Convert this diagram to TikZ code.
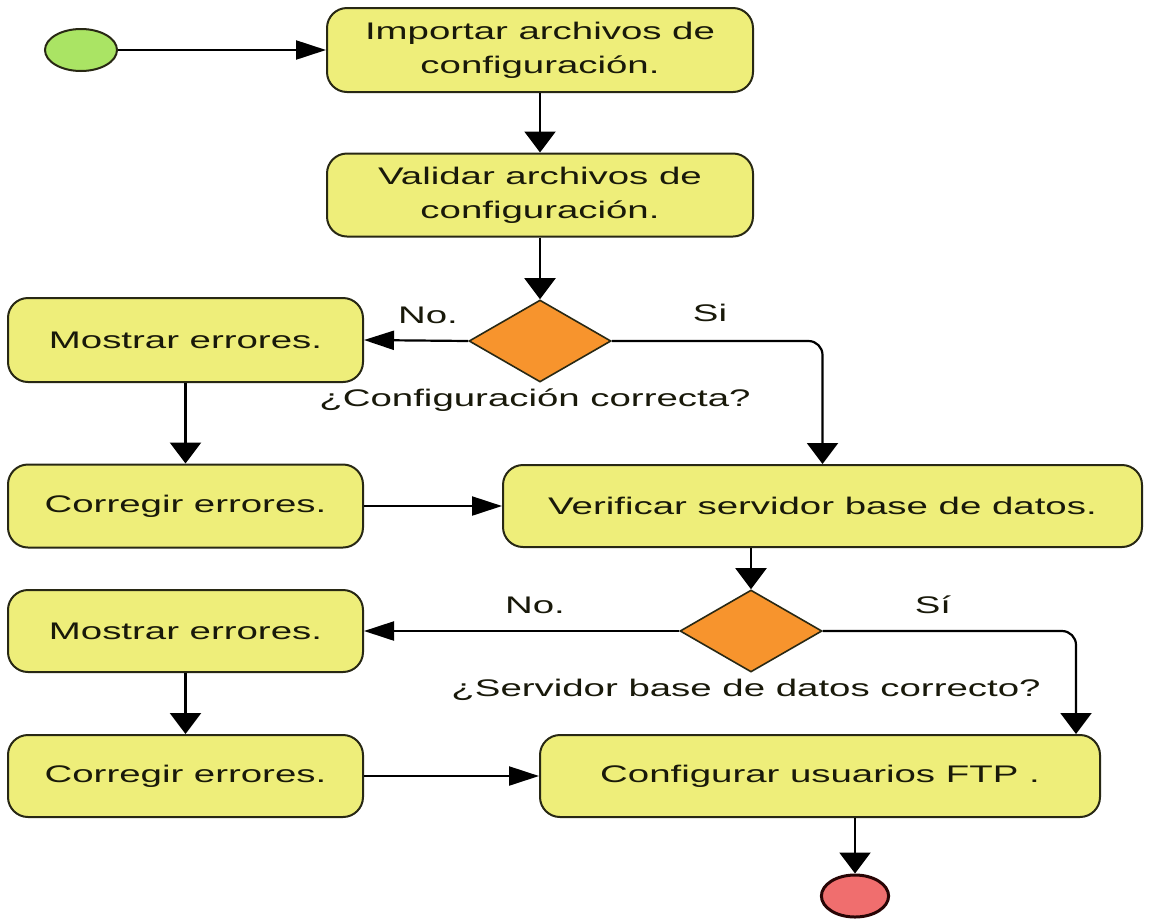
\documentclass[tikz,border=0pt]{standalone}
\usepackage{fontspec}
\setmainfont{Liberation Sans}[FakeStretch=1.6]
\usetikzlibrary{shapes.geometric,arrows.meta}
\definecolor{boxfill}{RGB}{238,238,122}
\definecolor{boxline}{RGB}{40,40,20}
\definecolor{decfill}{RGB}{247,148,45}
\definecolor{startfill}{RGB}{170,228,100}
\definecolor{endfill}{RGB}{240,110,110}
\definecolor{endline}{RGB}{40,5,5}
\definecolor{txt}{RGB}{25,25,10}
\begin{document}
\begin{tikzpicture}[x=1pt,y=-1pt,
  font=\fontsize{24}{34}\selectfont,
  act/.style={draw=boxline,line width=2pt,fill=boxfill,rounded corners=20pt,
    minimum height=83pt,align=center,text=txt,inner sep=0pt},
  dec/.style={diamond,draw=boxline,line width=1.6pt,fill=decfill,
    minimum width=142pt,minimum height=82pt,inner sep=0pt},
  lbl/.style={text=txt,inner sep=0pt},
  conn/.style={line width=2.2pt,draw=black},
  harr/.style={conn,-{Triangle[length=30pt,width=19pt]}},
  varr/.style={conn,-{Triangle[length=21pt,width=31pt]}},
]
\useasboundingbox[fill=white] (0,0) rectangle (1172,922);

\node[ellipse,draw=boxline,line width=2pt,fill=startfill,minimum width=72pt,
  minimum height=42pt,inner sep=0pt] (start) at (81,50) {};
\node[act,minimum width=426pt,minimum height=84pt] (b1) at (540,50)
  {Importar archivos de\\configuración.};
\node[act,minimum width=426pt] (b2) at (540,195)
  {Validar archivos de\\configuración.};
\node[dec] (d1) at (540,341) {};
\node[act,minimum width=355pt,minimum height=84pt] (m1) at (185.5,340) {Mostrar errores.};
\node[act,minimum width=355pt] (c1) at (185.5,506) {Corregir errores.};
\node[act,minimum width=639pt,minimum height=82pt] (v) at (822.5,506)
  {Verificar servidor base de datos.};
\node[dec] (d2) at (751,631) {};
\node[act,minimum width=355pt,minimum height=82pt] (m2) at (185.5,631) {Mostrar errores.};
\node[act,minimum width=355pt,minimum height=82pt] (c2) at (185.5,776) {Corregir errores.};
\node[act,minimum width=560pt,minimum height=82pt] (conf) at (820,776)
  {Configurar usuarios FTP .};
\node[circle,draw=endline,line width=3pt,fill=endfill,minimum size=42pt,
  inner sep=0pt,xscale=1.6] (end) at (855,896) {};

\node[lbl] (no1) at (428,315) {No.};
\node[lbl] (si1) at (710,313) {Si};
\node[lbl] (q1) at (535,400) {¿Configuración correcta?};
\node[lbl] (no2) at (535,605) {No.};
\node[lbl] (si2) at (933,605) {Sí};
\node[lbl] (q2) at (746,690) {¿Servidor base de datos correcto?};

\draw[harr] (start) -- (b1.west);
\draw[varr] (b1) -- (b2);
\draw[varr] (b2) -- (d1.north);
\draw[harr] (d1.west) -- (m1.east);
\draw[varr,rounded corners=14pt] (d1.east) -| (v.north);
\draw[varr] (m1) -- (c1);
\draw[harr] (c1) -- (v);
\draw[varr] (v.south -| d2.north) -- (d2.north);
\draw[harr] (d2.west) -- (m2.east);
\draw[varr,rounded corners=14pt] (d2.east) -| ([xshift=-25pt]conf.north east);
\draw[varr] (m2) -- (c2);
\draw[harr] (c2) -- (conf);
\draw[varr] (conf.south -| end.north) -- (end.north);
\end{tikzpicture}
\end{document}
